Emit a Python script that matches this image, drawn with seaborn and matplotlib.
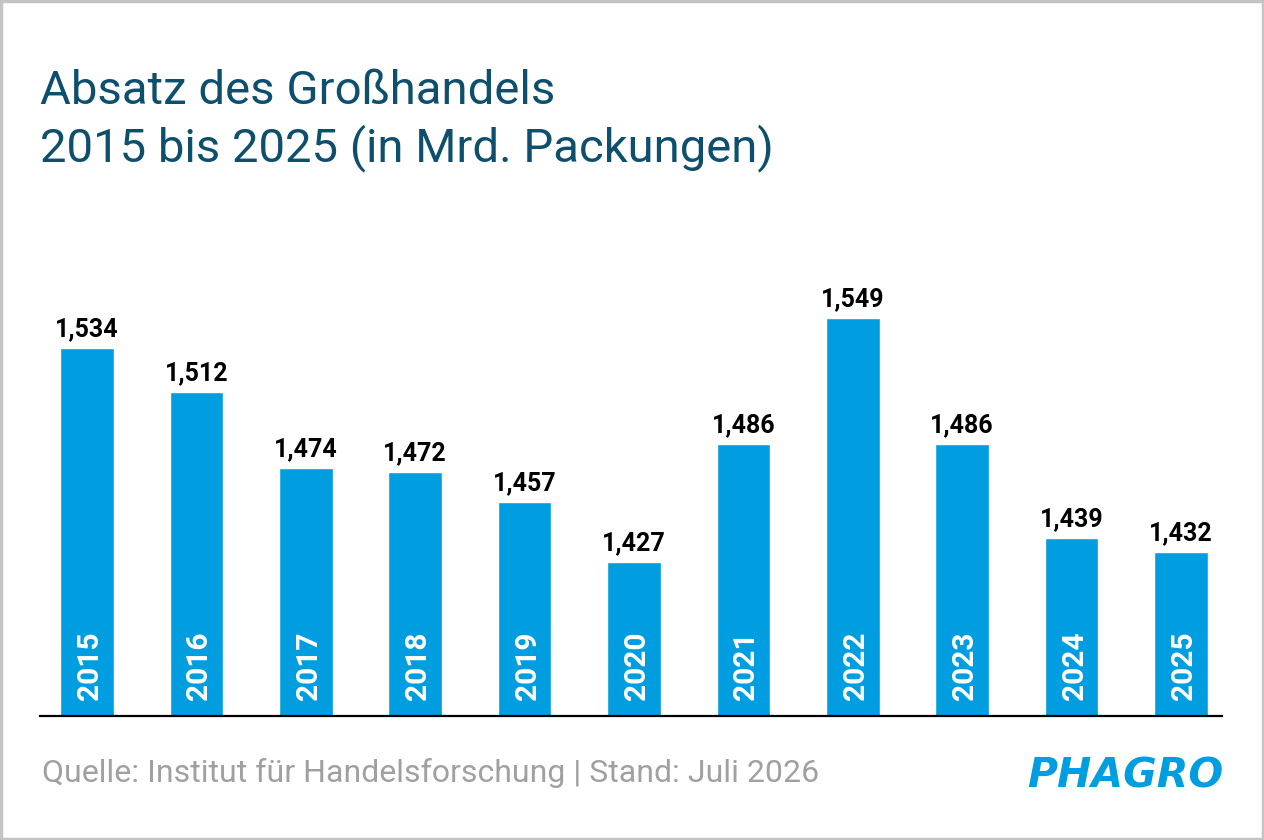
import matplotlib
matplotlib.use("Agg")
import matplotlib.pyplot as plt
import seaborn as sns
from matplotlib.patches import Rectangle

# data
years = ["2015", "2016", "2017", "2018", "2019", "2020",
         "2021", "2022", "2023", "2024", "2025"]
sales = [1.534, 1.512, 1.474, 1.472, 1.457, 1.427,
         1.486, 1.549, 1.486, 1.439, 1.432]
value_labels = ["1,534", "1,512", "1,474", "1,472", "1,457", "1,427",
                "1,486", "1,549", "1,486", "1,439", "1,432"]

title_1 = "Absatz des Großhandels"
title_2 = "2015 bis 2025 (in Mrd. Packungen)"
source = "Quelle: Institut für Handelsforschung | Stand: Juli 2026"

blue = "#009ee0"
dark = "#0d4f6c"

sns.set_style("white")
plt.rcParams["font.family"] = ["Roboto", "DejaVu Sans"]

W, H = 1264, 840
fig = plt.figure(figsize=(W / 100, H / 100), dpi=100)
fig.patch.set_facecolor("white")

ax = fig.add_axes([40 / W, 124 / H, 1182 / W, 500 / H])
sns.barplot(x=years, y=sales, color=blue, saturation=1, width=0.49, ax=ax)
ax.set_ylim(1.35, 1.60)
ax.set_xlim(-0.43, 10.375)
ax.set_xlabel("")
ax.set_ylabel("")
ax.set_xticks([])
ax.set_yticks([])
for s in ["top", "left", "right"]:
    ax.spines[s].set_visible(False)
ax.spines["bottom"].set_color("black")
ax.spines["bottom"].set_linewidth(1.6)
ax.patch.set_alpha(0)

for i, (v, lab, yr) in enumerate(zip(sales, value_labels, years)):
    ax.annotate(lab, (i, v), xytext=(0, 8.6), textcoords="offset points",
                ha="center", va="baseline", fontsize=18, fontweight="bold",
                color="black")
    ax.annotate(yr, (i, 1.35), xytext=(0, 11.5), textcoords="offset points",
                ha="left", va="center_baseline", rotation=90,
                rotation_mode="anchor", fontsize=21.5, fontweight="bold",
                color="white")

fig.text(40 / W, 1 - 104 / H, title_1, ha="left", va="baseline",
         fontsize=34, color=dark)
fig.text(40 / W, 1 - 161 / H, title_2, ha="left", va="baseline",
         fontsize=34, color=dark)

fig.text(42 / W, 1 - 782 / H, source, ha="left", va="baseline",
         fontsize=23, color="#a0a0a0")
fig.text(1223 / W, 1 - 787 / H, "PHAGRO", ha="right", va="baseline",
         fontsize=29.5, color=blue, fontweight="heavy", fontstyle="italic",
         family="DejaVu Sans")

# thin grey frame round the picture
fig.patches.append(Rectangle((0.001, 0.0015), 0.998, 0.997,
                             transform=fig.transFigure, fill=False,
                             edgecolor="#c4c4c4", linewidth=2.5))

fig.savefig("out.png", dpi=100, facecolor="white")
